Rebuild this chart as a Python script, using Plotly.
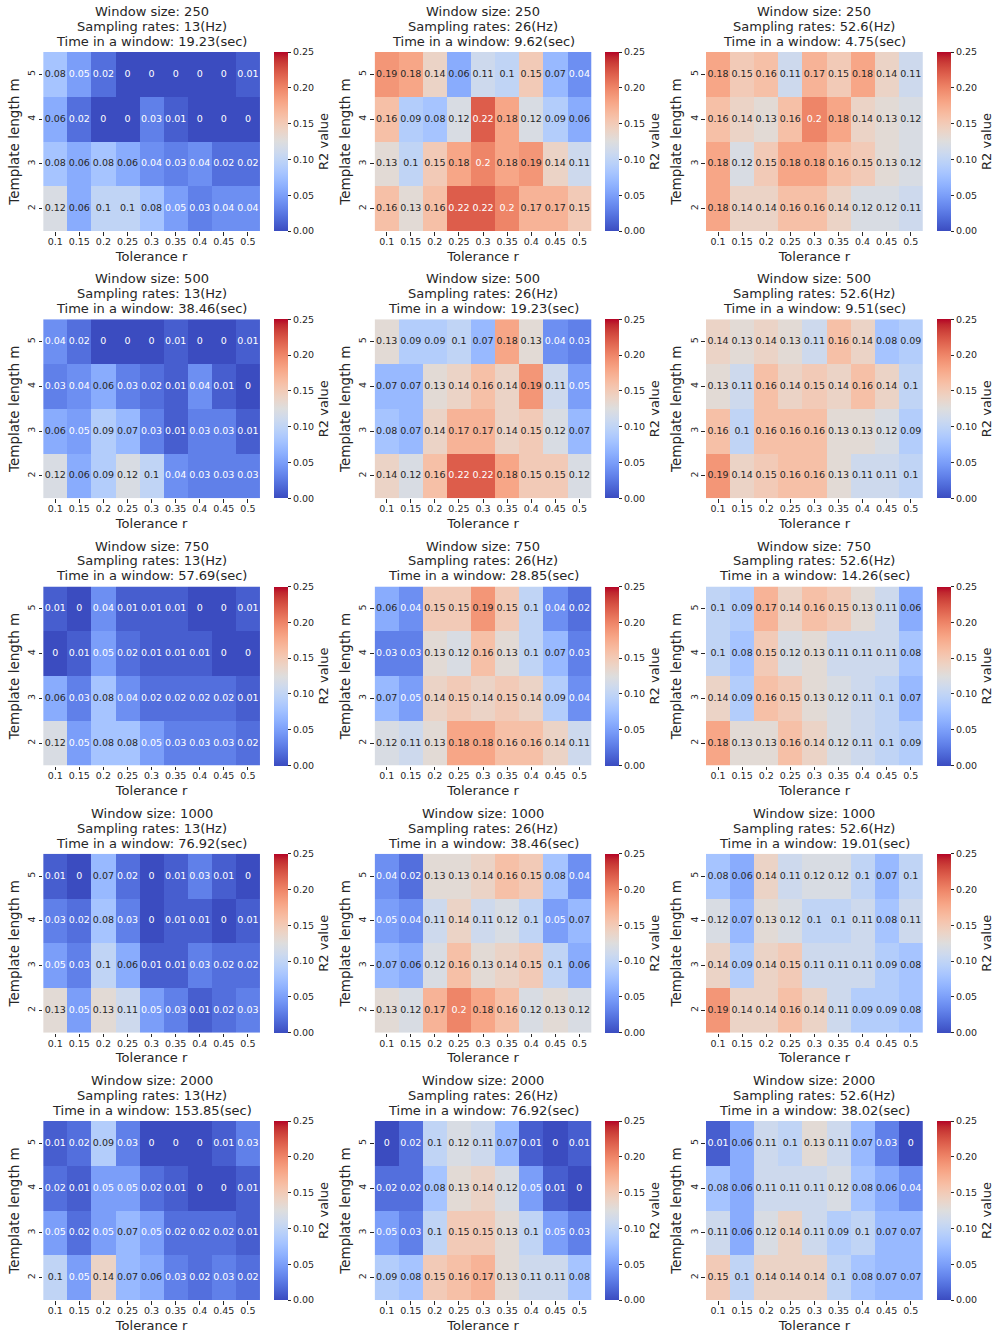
import plotly.graph_objects as go

# ---------------- data ----------------
tolerance = [0.1, 0.15, 0.2, 0.25, 0.3, 0.35, 0.4, 0.45, 0.5]
tol_labels = ["0.1", "0.15", "0.2", "0.25", "0.3", "0.35", "0.4", "0.45", "0.5"]
template_m = [5, 4, 3, 2]          # rows, top to bottom
window_sizes = [250, 500, 750, 1000, 2000]
sampling_rates = ["13", "26", "52.6"]
time_in_window = [
    ["19.23", "9.62", "4.75"],
    ["38.46", "19.23", "9.51"],
    ["57.69", "28.85", "14.26"],
    ["76.92", "38.46", "19.01"],
    ["153.85", "76.92", "38.02"],
]

r2_w250_13 = [[0.08, 0.05, 0.02, 0, 0, 0, 0, 0, 0.01],
              [0.06, 0.02, 0, 0, 0.03, 0.01, 0, 0, 0],
              [0.08, 0.06, 0.08, 0.06, 0.04, 0.03, 0.04, 0.02, 0.02],
              [0.12, 0.06, 0.1, 0.1, 0.08, 0.05, 0.03, 0.04, 0.04]]
r2_w250_26 = [[0.19, 0.18, 0.14, 0.06, 0.11, 0.1, 0.15, 0.07, 0.04],
              [0.16, 0.09, 0.08, 0.12, 0.22, 0.18, 0.12, 0.09, 0.06],
              [0.13, 0.1, 0.15, 0.18, 0.2, 0.18, 0.19, 0.14, 0.11],
              [0.16, 0.13, 0.16, 0.22, 0.22, 0.2, 0.17, 0.17, 0.15]]
r2_w250_52 = [[0.18, 0.15, 0.16, 0.11, 0.17, 0.15, 0.18, 0.14, 0.11],
              [0.16, 0.14, 0.13, 0.16, 0.2, 0.18, 0.14, 0.13, 0.12],
              [0.18, 0.12, 0.15, 0.18, 0.18, 0.16, 0.15, 0.13, 0.12],
              [0.18, 0.14, 0.14, 0.16, 0.16, 0.14, 0.12, 0.12, 0.11]]
r2_w500_13 = [[0.04, 0.02, 0, 0, 0, 0.01, 0, 0, 0.01],
              [0.03, 0.04, 0.06, 0.03, 0.02, 0.01, 0.04, 0.01, 0],
              [0.06, 0.05, 0.09, 0.07, 0.03, 0.01, 0.03, 0.03, 0.01],
              [0.12, 0.06, 0.09, 0.12, 0.1, 0.04, 0.03, 0.03, 0.03]]
r2_w500_26 = [[0.13, 0.09, 0.09, 0.1, 0.07, 0.18, 0.13, 0.04, 0.03],
              [0.07, 0.07, 0.13, 0.14, 0.16, 0.14, 0.19, 0.11, 0.05],
              [0.08, 0.07, 0.14, 0.17, 0.17, 0.14, 0.15, 0.12, 0.07],
              [0.14, 0.12, 0.16, 0.22, 0.22, 0.18, 0.15, 0.15, 0.12]]
r2_w500_52 = [[0.14, 0.13, 0.14, 0.13, 0.11, 0.16, 0.14, 0.08, 0.09],
              [0.13, 0.11, 0.16, 0.14, 0.15, 0.14, 0.16, 0.14, 0.1],
              [0.16, 0.1, 0.16, 0.16, 0.16, 0.13, 0.13, 0.12, 0.09],
              [0.19, 0.14, 0.15, 0.16, 0.16, 0.13, 0.11, 0.11, 0.1]]
r2_w750_13 = [[0.01, 0, 0.04, 0.01, 0.01, 0.01, 0, 0, 0.01],
              [0, 0.01, 0.05, 0.02, 0.01, 0.01, 0.01, 0, 0],
              [0.06, 0.03, 0.08, 0.04, 0.02, 0.02, 0.02, 0.02, 0.01],
              [0.12, 0.05, 0.08, 0.08, 0.05, 0.03, 0.03, 0.03, 0.02]]
r2_w750_26 = [[0.06, 0.04, 0.15, 0.15, 0.19, 0.15, 0.1, 0.04, 0.02],
              [0.03, 0.03, 0.13, 0.12, 0.16, 0.13, 0.1, 0.07, 0.03],
              [0.07, 0.05, 0.14, 0.15, 0.14, 0.15, 0.14, 0.09, 0.04],
              [0.12, 0.11, 0.13, 0.18, 0.18, 0.16, 0.16, 0.14, 0.11]]
r2_w750_52 = [[0.1, 0.09, 0.17, 0.14, 0.16, 0.15, 0.13, 0.11, 0.06],
              [0.1, 0.08, 0.15, 0.12, 0.13, 0.11, 0.11, 0.11, 0.08],
              [0.14, 0.09, 0.16, 0.15, 0.13, 0.12, 0.11, 0.1, 0.07],
              [0.18, 0.13, 0.13, 0.16, 0.14, 0.12, 0.11, 0.1, 0.09]]
r2_w1000_13 = [[0.01, 0, 0.07, 0.02, 0, 0.01, 0.03, 0.01, 0],
               [0.03, 0.02, 0.08, 0.03, 0, 0.01, 0.01, 0, 0.01],
               [0.05, 0.03, 0.1, 0.06, 0.01, 0.01, 0.03, 0.02, 0.02],
               [0.13, 0.05, 0.13, 0.11, 0.05, 0.03, 0.01, 0.02, 0.03]]
r2_w1000_26 = [[0.04, 0.02, 0.13, 0.13, 0.14, 0.16, 0.15, 0.08, 0.04],
               [0.05, 0.04, 0.11, 0.14, 0.11, 0.12, 0.1, 0.05, 0.07],
               [0.07, 0.06, 0.12, 0.16, 0.13, 0.14, 0.15, 0.1, 0.06],
               [0.13, 0.12, 0.17, 0.2, 0.18, 0.16, 0.12, 0.13, 0.12]]
r2_w1000_52 = [[0.08, 0.06, 0.14, 0.11, 0.12, 0.12, 0.1, 0.07, 0.1],
               [0.12, 0.07, 0.13, 0.12, 0.1, 0.1, 0.11, 0.08, 0.11],
               [0.14, 0.09, 0.14, 0.15, 0.11, 0.11, 0.11, 0.09, 0.08],
               [0.19, 0.14, 0.14, 0.16, 0.14, 0.11, 0.09, 0.09, 0.08]]
r2_w2000_13 = [[0.01, 0.02, 0.09, 0.03, 0, 0, 0, 0.01, 0.03],
               [0.02, 0.01, 0.05, 0.05, 0.02, 0.01, 0, 0, 0.01],
               [0.05, 0.02, 0.05, 0.07, 0.05, 0.02, 0.02, 0.02, 0.01],
               [0.1, 0.05, 0.14, 0.07, 0.06, 0.03, 0.02, 0.03, 0.02]]
r2_w2000_26 = [[0, 0.02, 0.1, 0.12, 0.11, 0.07, 0.01, 0, 0.01],
               [0.02, 0.02, 0.08, 0.13, 0.14, 0.12, 0.05, 0.01, 0],
               [0.05, 0.03, 0.1, 0.15, 0.15, 0.13, 0.1, 0.05, 0.03],
               [0.09, 0.08, 0.15, 0.16, 0.17, 0.13, 0.11, 0.11, 0.08]]
r2_w2000_52 = [[0.01, 0.06, 0.11, 0.1, 0.13, 0.11, 0.07, 0.03, 0],
               [0.08, 0.06, 0.11, 0.11, 0.11, 0.12, 0.08, 0.06, 0.04],
               [0.11, 0.06, 0.12, 0.14, 0.11, 0.09, 0.1, 0.07, 0.07],
               [0.15, 0.1, 0.14, 0.14, 0.14, 0.1, 0.08, 0.07, 0.07]]

panels = [
    [r2_w250_13, r2_w250_26, r2_w250_52],
    [r2_w500_13, r2_w500_26, r2_w500_52],
    [r2_w750_13, r2_w750_26, r2_w750_52],
    [r2_w1000_13, r2_w1000_26, r2_w1000_52],
    [r2_w2000_13, r2_w2000_26, r2_w2000_52],
]

# ---------------- colour map (coolwarm) ----------------
coolwarm_rgb = [
    (59, 76, 192), (68, 90, 204), (77, 104, 215), (87, 117, 225), (98, 130, 234),
    (108, 142, 241), (119, 154, 247), (130, 165, 251), (141, 176, 254), (152, 185, 255),
    (163, 194, 255), (174, 201, 253), (184, 208, 249), (194, 213, 244), (204, 217, 238),
    (213, 219, 230), (221, 221, 221), (229, 216, 209), (236, 211, 197), (241, 204, 185),
    (245, 196, 173), (247, 187, 160), (247, 177, 148), (247, 166, 135), (244, 154, 123),
    (241, 141, 111), (236, 127, 99), (229, 112, 88), (222, 96, 77), (213, 80, 66),
    (203, 62, 56), (192, 40, 47), (180, 4, 38),
]
n_cs = len(coolwarm_rgb) - 1
colorscale = [[i / n_cs, "rgb(%d,%d,%d)" % c] for i, c in enumerate(coolwarm_rgb)]
ZMIN, ZMAX = 0.0, 0.25


def cmap(v):
    t = min(max((v - ZMIN) / (ZMAX - ZMIN), 0), 1) * n_cs
    i = min(int(t), n_cs - 1)
    f = t - i
    a, b = coolwarm_rgb[i], coolwarm_rgb[i + 1]
    return [(a[k] + (b[k] - a[k]) * f) / 255 for k in range(3)]


def text_color(v):
    def lin(c):
        return c / 12.92 if c <= 0.03928 else ((c + 0.055) / 1.055) ** 2.4
    r, g, b = (lin(c) for c in cmap(v))
    lum = 0.2126 * r + 0.7152 * g + 0.0722 * b
    return "#ffffff" if lum < 0.408 else "#262626"


# ---------------- layout geometry (px) ----------------
W, H = 994, 1337
col_left = [43.5, 377.3, 711]
cell_w = 218.3
row_top0, row_step, cell_h = 52, 267.25, 179
FONT = "DejaVu Sans"
INK = "#262626"

fig = go.Figure()
layout = dict(
    width=W, height=H, margin=dict(l=0, r=0, t=0, b=0),
    paper_bgcolor="white", plot_bgcolor="white",
    font=dict(family=FONT, color=INK),
    showlegend=False, annotations=[],
)

k = 0
for r in range(5):
    for c in range(3):
        k += 1
        z = panels[r][c]
        xa = "x" if k == 1 else "x%d" % k
        ya = "y" if k == 1 else "y%d" % k
        x0 = col_left[c]
        x1 = x0 + cell_w
        top = row_top0 + r * row_step
        bot = top + cell_h

        fig.add_trace(go.Heatmap(
            z=z, x=tolerance, y=template_m, xaxis=xa, yaxis=ya,
            colorscale=colorscale, zmin=ZMIN, zmax=ZMAX, hoverinfo="skip",
            colorbar=dict(
                x=(x1 + 14) / W, xanchor="left", xpad=0, ypad=0,
                y=(H - top) / H, yanchor="top", len=cell_h / H, lenmode="fraction",
                thickness=13.5, outlinewidth=0,
                tickvals=[0, 0.05, 0.1, 0.15, 0.2, 0.25], tickformat=".2f",
                ticks="outside", ticklen=3.5, tickwidth=1, tickcolor=INK,
                tickfont=dict(size=9.5, family=FONT, color=INK),
                title=dict(text="R2 value", side="right",
                           font=dict(size=13, family=FONT, color=INK)),
            ),
        ))

        xs, ys, ts, cs = [], [], [], []
        for i, m in enumerate(template_m):
            for j, t in enumerate(tolerance):
                v = z[i][j]
                xs.append(t)
                ys.append(m)
                ts.append(f"{v:g}")
                cs.append(text_color(v))
        fig.add_trace(go.Scatter(
            x=xs, y=ys, text=ts, mode="text", xaxis=xa, yaxis=ya,
            textfont=dict(size=9.5, family=FONT, color=cs),
            hoverinfo="skip", cliponaxis=False,
        ))

        xkey = "xaxis" if k == 1 else "xaxis%d" % k
        ykey = "yaxis" if k == 1 else "yaxis%d" % k
        layout[xkey] = dict(
            domain=[x0 / W, x1 / W], anchor=ya, range=[0.075, 0.525],
            tickvals=tolerance, ticktext=tol_labels, ticks="outside",
            ticklen=3.5, tickwidth=1, tickcolor=INK, showgrid=False,
            zeroline=False, showline=False, tickangle=0, ticklabelstandoff=-2,
            tickfont=dict(size=9.5, family=FONT, color=INK),
            title=dict(text="Tolerance r", standoff=5,
                       font=dict(size=13, family=FONT, color=INK)),
        )
        layout[ykey] = dict(
            domain=[(H - bot) / H, (H - top) / H], anchor=xa, range=[1.5, 5.5],
            tickvals=template_m, ticktext=[str(m) for m in template_m],
            tickangle=-90, ticks="outside", ticklen=3.5, tickwidth=1,
            tickcolor=INK, showgrid=False, zeroline=False, showline=False,
            tickfont=dict(size=9.5, family=FONT, color=INK),
            title=dict(text="Template length m", standoff=3,
                       font=dict(size=13.5, family=FONT, color=INK)),
        )

        lines = [
            "Window size: %d" % window_sizes[r],
            "Sampling rates: %s(Hz)" % sampling_rates[c],
            "Time in a window: %s(sec)" % time_in_window[r][c],
        ]
        offsets = [40.3, 25.6, 10.6]
        for txt, off in zip(lines, offsets):
            layout["annotations"].append(dict(
                text=txt, xref="paper", yref="paper",
                x=(x0 + x1) / 2 / W, y=(H - (top - off)) / H,
                xanchor="center", yanchor="middle", showarrow=False,
                font=dict(size=13, family=FONT, color=INK),
            ))

fig.update_layout(**layout)
fig.write_html("out.html")
